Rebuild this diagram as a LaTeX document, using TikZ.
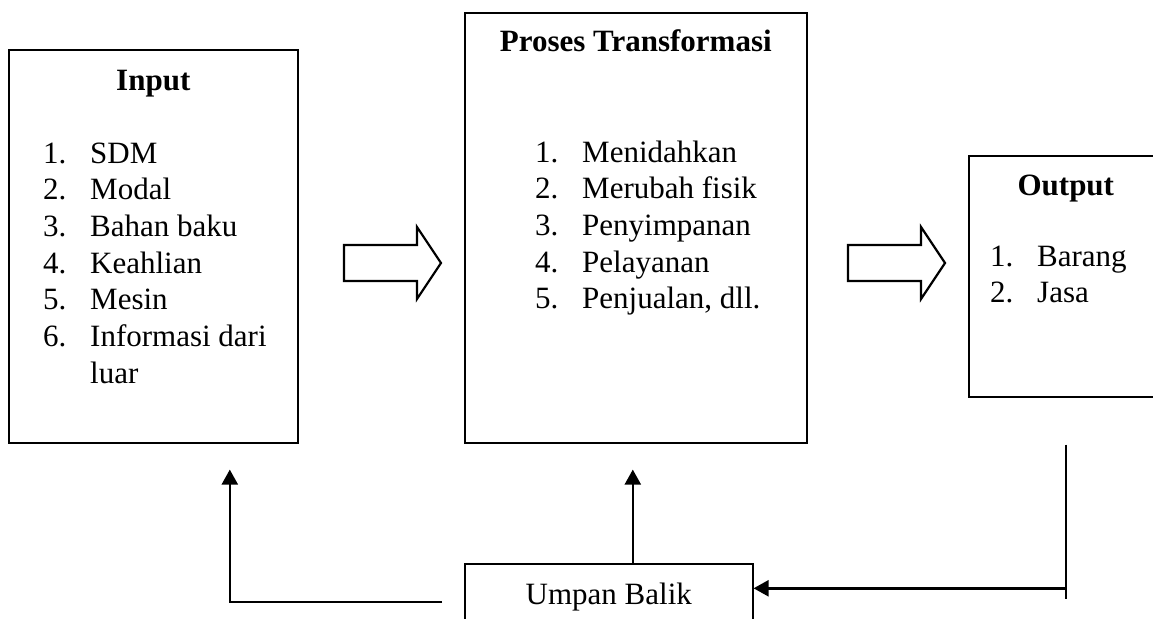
\documentclass[tikz,border=0pt]{standalone}
\usepackage{fontspec}
\setmainfont{Liberation Serif}
\usetikzlibrary{arrows.meta}

\begin{document}
\begin{tikzpicture}[x=1pt, y=1pt,
    box/.style={draw, line width=1.6pt, inner sep=0pt, anchor=north west},
    boxtitle/.style={anchor=base, inner sep=0pt, font=\fontsize{31}{36.7}\selectfont\bfseries},
    listitem/.style={anchor=base west, inner sep=0pt, font=\fontsize{31}{36.7}\selectfont},
    blockarr/.style={line width=2.2pt, line join=miter},
    fbline/.style={line width=2.4pt},
    fbarrow/.style={fbline, -{Triangle[width=16pt, length=15pt]}}]
  \useasboundingbox (0,0) rectangle (1153,-618);
  \clip (0,0) rectangle (1153,-618);
  % boxes
  \node[box, minimum width=289pt, minimum height=393pt] (input) at (8,-49) {};
  \node[box, minimum width=342pt, minimum height=430pt] (proc) at (464,-12) {};
  \node[box, minimum width=194pt, minimum height=241pt] (output) at (968,-155) {};
  \node[box, minimum width=288pt, minimum height=67pt, font=\fontsize{31}{36.7}\selectfont] (fb) at (464,-563) {Umpan Balik};
  % titles
  \node[boxtitle] (intitle) at ([yshift=-41pt]input.north) {Input};
  \node[boxtitle] (prtitle) at ([yshift=-40pt]proc.north) {Proses Transformasi};
  \node[boxtitle] (outtitle) at ([yshift=-40pt]output.north) {Output};
  % lists
  \foreach \t [count=\i] in {SDM, Modal, Bahan baku, Keahlian, Mesin, Informasi dari}
    \node[listitem] (in\i) at ([xshift=35pt, yshift={-114pt-(\i-1)*36.7pt}]input.north west) {\makebox[47pt][l]{\i.}\t};
  \node[listitem] (inluar) at ([xshift=47pt, yshift=-36.7pt]in6.base west) {luar};
  \foreach \t [count=\i] in {Menidahkan, Merubah fisik, Penyimpanan, Pelayanan, {Penjualan, dll.}}
    \node[listitem] (pr\i) at ([xshift=71pt, yshift={-150pt-(\i-1)*36.7pt}]proc.north west) {\makebox[47pt][l]{\i.}\t};
  \foreach \t [count=\i] in {Barang, Jasa}
    \node[listitem] (out\i) at ([xshift=22pt, yshift={-111pt-(\i-1)*36.7pt}]output.north west) {\makebox[47pt][l]{\i.}\t};
  % block arrows
  \foreach \x in {344,848}
    \draw[blockarr] (\x,-245) -- ++(73,0) -- ++(0,18) -- ++(24,-36) -- ++(-24,-36) -- ++(0,18) -- ++(-73,0) -- cycle;
  % feedback
  \coordinate (fbl) at ([xshift=-22pt, yshift=-39pt]fb.north west);
  \coordinate (ot) at ([yshift=-47pt]output.south);
  \coordinate (ob) at ([yshift=-201pt]output.south);
  \coordinate (fbr) at ([yshift=9pt]fb.east);
  \draw[fbarrow] (fbl) -| ([xshift=76.5pt, yshift=-26pt]input.south);
  \draw[fbarrow] ([xshift=-3pt]fb.north -| proc.south) -- ([xshift=-3pt, yshift=-26pt]proc.south);
  \draw[fbline] (ot) -- (ob);
  \draw[fbarrow] (ot |- fbr) -- (fbr);
\end{tikzpicture}
\end{document}
